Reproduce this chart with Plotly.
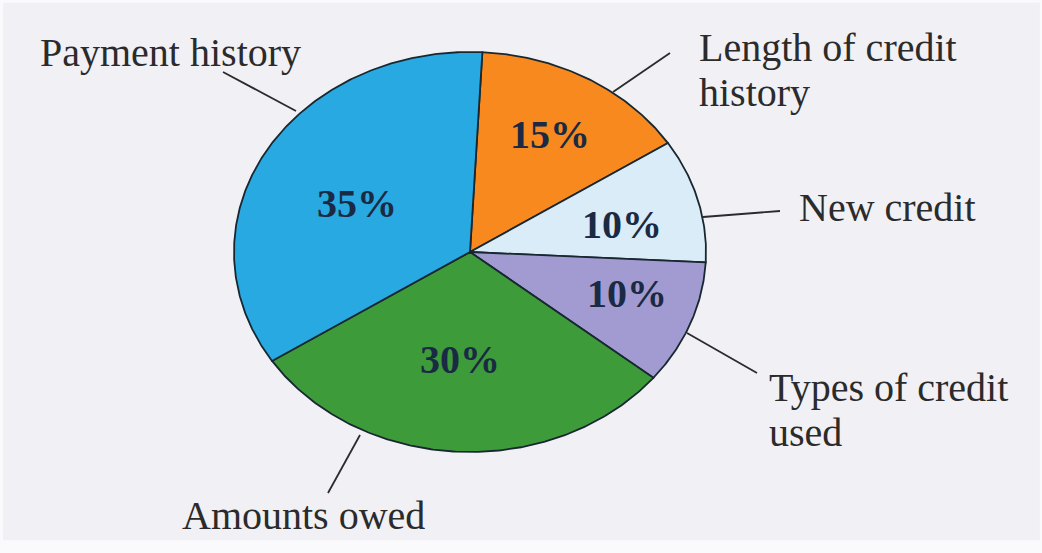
import math
import plotly.graph_objects as go

# ---------------- data ----------------
categories = ["Length of credit history", "New credit", "Types of credit used",
              "Amounts owed", "Payment history"]
shares = [15, 10, 10, 30, 35]            # percent
pct_labels = ["15%", "10%", "10%", "30%", "35%"]
label_lines = [["Length of credit", "history"], ["New credit"],
               ["Types of credit", "used"], ["Amounts owed"], ["Payment history"]]

# ---------------- styles / layout ----------------
colors = ["#f7891f", "#d9ecf7", "#a29bd1", "#3d9b3a", "#29a9e1"]
W, H = 1042, 553
CX, CY, RX, RY = 470, 252, 236, 200       # ellipse centre / radii (pixels)
START_DEG = 3                              # first slice starts slightly right of 12 o'clock
BG = "#f1f0f5"
EDGE = "#182730"
SERIF = "Liberation Serif, Times New Roman, serif"

# percent label positions (pixel), outer label anchors and leader lines
pct_pos = [(550, 134), (622, 224), (627, 293), (460, 359), (357, 203)]
label_pos = [(697, [47, 92]), (797, [207]), (767, [387, 432]), (180, [515]), (38, [52])]
leaders = [((670, 53), (613, 92)), ((780, 211), (703, 217)),
           ((757, 373), (687, 333)), ((328, 493), (360, 435)), ((223, 72), (296, 111))]

fig = go.Figure()

total = float(sum(shares))
a0 = START_DEG
for cat, val, col in zip(categories, shares, colors):
    span = 360.0 * val / total
    n = max(8, int(span * 2))
    xs, ys = [CX], [CY]
    for i in range(n + 1):
        t = math.radians(a0 + span * i / n)
        xs.append(CX + RX * math.sin(t))
        ys.append(CY - RY * math.cos(t))
    xs.append(CX)
    ys.append(CY)
    fig.add_trace(go.Scatter(x=xs, y=ys, mode="lines", fill="toself",
                             fillcolor=col, line=dict(color=EDGE, width=1.8),
                             name=cat, hoverinfo="name", showlegend=False))
    a0 += span

annotations = []
for txt, (px, py) in zip(pct_labels, pct_pos):
    annotations.append(dict(x=px, y=py, xref="x", yref="y", text="<b>%s</b>" % txt,
                            showarrow=False, xanchor="center", yanchor="middle",
                            font=dict(family=SERIF, size=40, color="#1b2a44")))
for lines, (lx, lys) in zip(label_lines, label_pos):
    for line, ly in zip(lines, lys):
        annotations.append(dict(x=lx, y=ly, xref="x", yref="y", text=line,
                                showarrow=False, xanchor="left", yanchor="middle",
                                font=dict(family=SERIF, size=40, color="#2b2b2b")))

shapes = [dict(type="rect", xref="paper", yref="paper", x0=0.003, x1=0.998,
               y0=0.023, y1=0.995, fillcolor=BG, line=dict(width=0), layer="below")]
for (p0, p1) in leaders:
    shapes.append(dict(type="line", xref="x", yref="y", x0=p0[0], y0=p0[1],
                       x1=p1[0], y1=p1[1], line=dict(color="#2b2b2b", width=1.8)))

fig.update_layout(
    width=W, height=H, margin=dict(l=0, r=0, t=0, b=0),
    paper_bgcolor="#fafafc", plot_bgcolor="rgba(0,0,0,0)",
    xaxis=dict(range=[0, W], visible=False, fixedrange=True),
    yaxis=dict(range=[H, 0], visible=False, fixedrange=True),
    annotations=annotations, shapes=shapes, showlegend=False,
)

fig.write_html("out.html")
